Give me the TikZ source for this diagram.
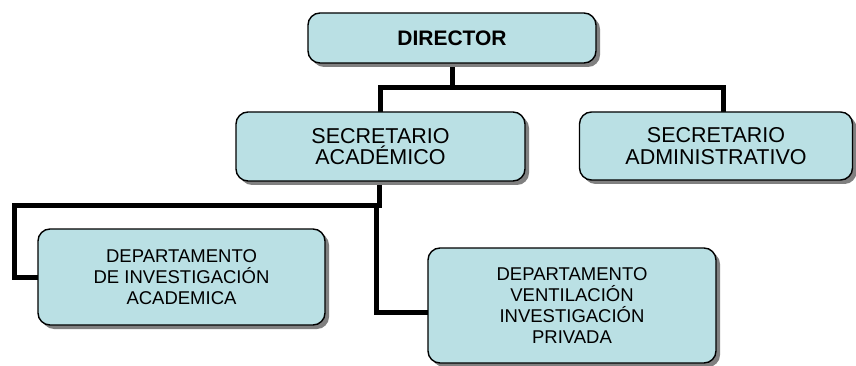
\documentclass[tikz,border=0pt]{standalone}
\usepackage{fontspec}
\setmainfont{Liberation Sans}
\usetikzlibrary{shadows,backgrounds}
\definecolor{boxfill}{RGB}{186,224,228}
\definecolor{shadowgray}{RGB}{128,128,128}
\tikzset{
  orgbox/.style={draw=black, line width=1.4pt, fill=boxfill, rounded corners=12pt,
    align=center, inner sep=0pt,
    drop shadow={shadow xshift=4pt, shadow yshift=-4pt, fill=shadowgray, opacity=1}},
  bigtext/.style={font=\fontsize{21.5}{21.7}\selectfont},
  smalltext/.style={font=\fontsize{18.5}{21}\selectfont},
  conn/.style={line width=5pt, line cap=rect, line join=miter}
}
\begin{document}
\begin{tikzpicture}[x=1pt,y=-1pt]
\useasboundingbox (0,0) rectangle (856,366);
\node[orgbox, minimum width=288pt, minimum height=50pt, font=\fontsize{21}{22}\selectfont\bfseries] (dir) at (452,38) {DIRECTOR};
\node[orgbox, bigtext, minimum width=289pt, minimum height=69pt] (secA) at (380.5,146.5) {SECRETARIO\\ACADÉMICO};
\node[orgbox, bigtext, minimum width=273pt, minimum height=68pt] (secB) at (716,146) {SECRETARIO\\ADMINISTRATIVO};
\node[orgbox, smalltext, minimum width=287pt, minimum height=96pt] (depA) at (181.5,277) {DEPARTAMENTO\\DE INVESTIGACIÓN\\ACADEMICA};
\node[orgbox, smalltext, minimum width=288pt, minimum height=115pt] (depB) at (572,305.5) {DEPARTAMENTO\\VENTILACIÓN\\INVESTIGACIÓN\\PRIVADA};
\coordinate (bus) at (452,88);
\coordinate (leftc) at (14,205);
\coordinate (midc) at (376,205);
\begin{scope}[on background layer]
\draw[conn] (dir.south) -- (bus);
\draw[conn] (bus) -| (secA.north);
\draw[conn] (bus) -| ([xshift=7pt]secB.north);
\draw[conn] ([xshift=-1pt]secA.south) |- (leftc) |- (depA.west);
\draw[conn] (midc) |- ([yshift=-6.5pt]depB.west);
\end{scope}
\end{tikzpicture}
\end{document}
